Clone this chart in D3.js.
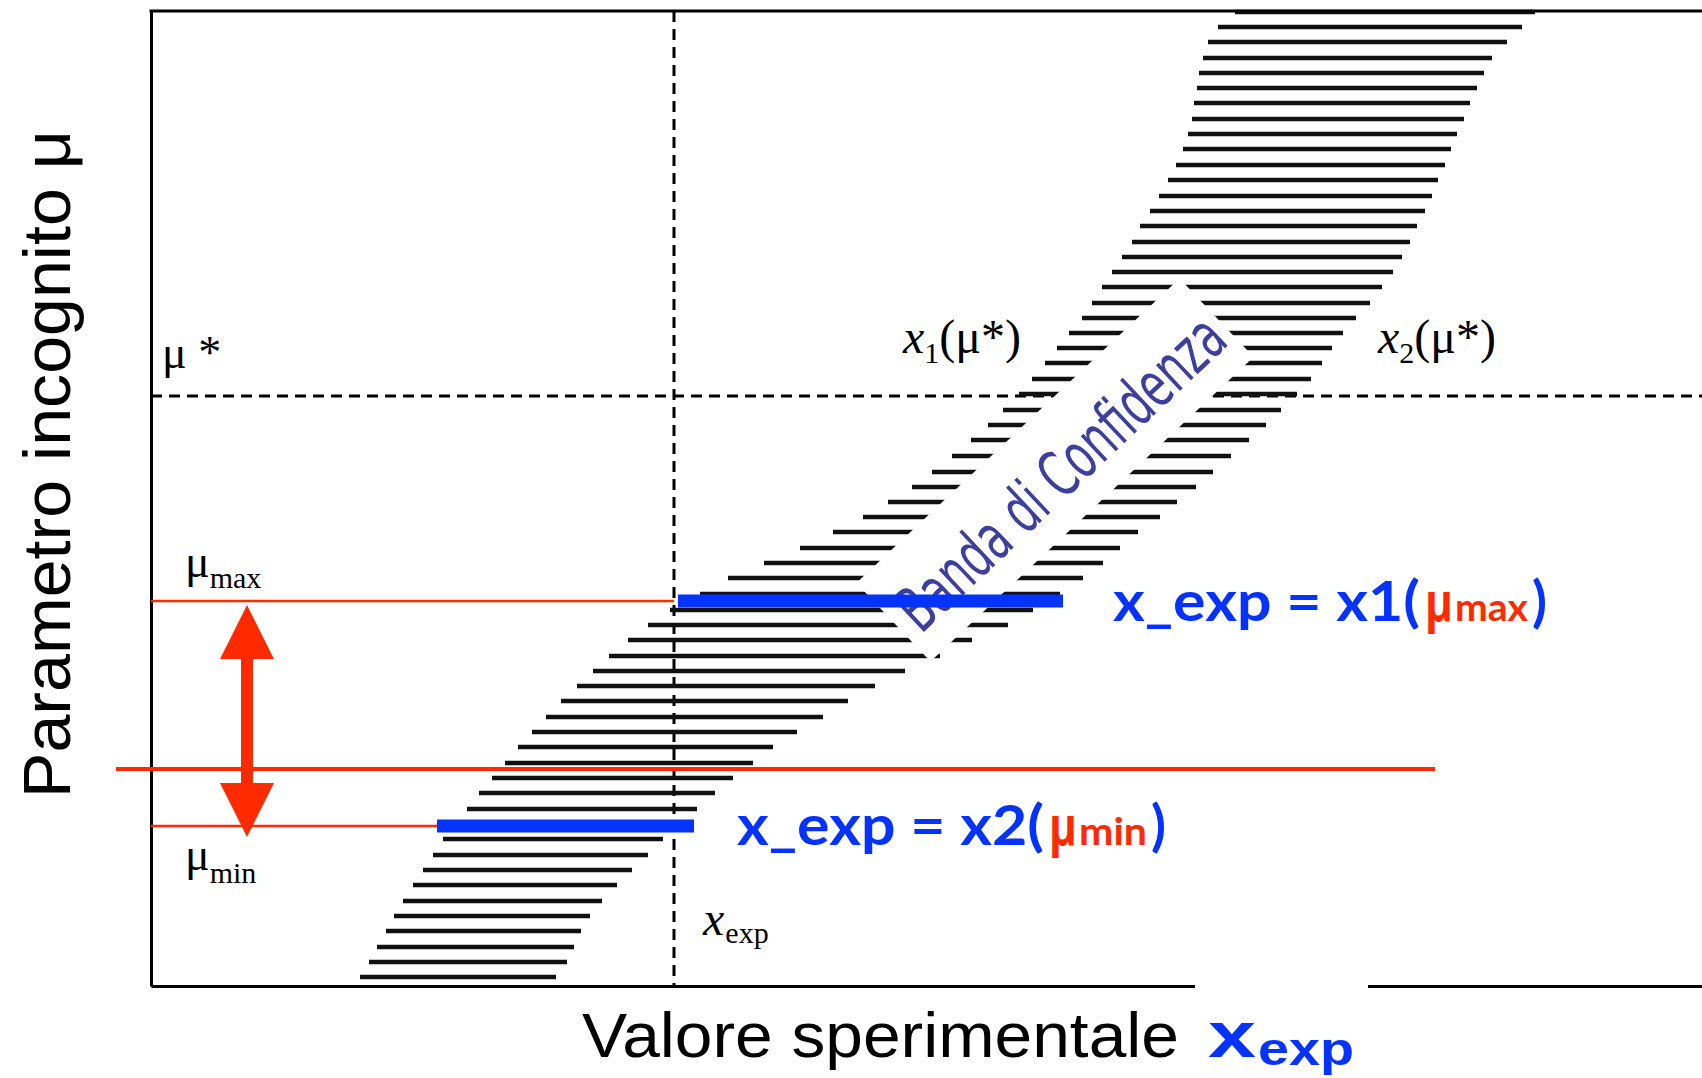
<!DOCTYPE html>
<html>
<head>
<meta charset="utf-8">
<script src="https://cdn.jsdelivr.net/npm/d3@7"></script>
<style>
  html, body { margin: 0; padding: 0; background: #fff; }
  svg { display: block; }
</style>
</head>
<body>
<svg id="chart" width="1702" height="1078"></svg>
<script>
// ---- Confidence belt data (arbitrary units: x = measured value, mu = unknown parameter) ----
// mu level of every hatch line of the belt
const muLevels = [0.9, 2.4, 3.9, 5.5, 7.0, 8.5, 10.1, 11.6, 13.1, 14.7,
  16.2, 17.7, 19.3, 20.8, 22.3, 23.9, 25.4, 26.9, 28.5, 30.0,
  31.5, 33.0, 34.6, 36.1, 37.6, 39.2, 40.8, 42.3, 43.8, 45.4,
  46.9, 48.4, 49.9, 51.4, 53.0, 54.6, 56.1, 57.6, 59.2, 60.7,
  62.3, 63.8, 65.3, 66.8, 68.3, 69.9, 71.4, 72.9, 74.4, 76.0,
  77.5, 79.0, 80.6, 82.1, 83.7, 85.2, 86.7, 88.3, 89.8, 91.3,
  92.8, 94.4, 95.9, 97.4];
// left edge x1(mu) of the belt
const bandX1 = [20.9, 21.8, 22.6, 23.5, 24.3, 25.2, 26.2, 27.2, 28.2, 29.2,
  30.4, 31.6, 32.8, 34.1, 35.4, 36.7, 38.1, 39.5, 41.0, 42.6,
  44.2, 45.8, 47.7, 49.7, 51.9, 54.9, 57.7, 61.3, 64.9, 68.2,
  71.2, 73.7, 76.1, 78.1, 80.1, 82.0, 83.7, 85.2, 86.8, 88.1,
  89.4, 90.6, 91.8, 93.1, 94.1, 95.1, 96.1, 97.1, 98.1, 98.9,
  99.9, 100.8, 101.7, 102.5, 103.2, 103.7, 104.1, 104.3, 104.6, 104.8,
  105.2, 105.7, 106.7, 108.4];
// right edge x2(mu) of the belt
const bandX2 = [40.5, 41.6, 42.3, 43.0, 43.9, 45.1, 46.6, 48.1, 49.7, 51.2,
  52.9, 54.6, 56.4, 58.2, 60.2, 62.2, 64.6, 67.2, 69.7, 72.4,
  75.4, 78.9, 82.1, 85.7, 88.2, 90.9, 93.2, 95.2, 96.9, 98.7,
  100.9, 102.6, 104.5, 106.2, 108.0, 109.8, 111.5, 113.0, 114.6, 116.0,
  117.1, 118.1, 119.2, 120.5, 121.9, 123.1, 124.2, 125.1, 125.9, 126.6,
  127.4, 128.1, 128.7, 129.4, 130.0, 130.6, 131.3, 131.9, 132.6, 133.3,
  134.1, 135.6, 137.1, 138.4];

const xExp = 52.3;          // measured value
const muStar = 59.0;        // reference parameter value
const muMax = 38.5;         // upper end of the interval
const muMin = 16.0;         // lower end of the interval
const muObsLine = 21.7;     // horizontal red line
const obsLineX = [-3.5, 128.4];
const barUpperX = [52.7, 91.2];   // x_exp = x1(mu_max)
const barLowerX = [28.6, 54.3];   // x_exp = x2(mu_min)
const arrowX = 9.6;
const arrowMu = [38.1, 14.9];

// ---- scales ----
const svg = d3.select("#chart");
const x = d3.scaleLinear().domain([0, 155.1]).range([151, 1702]);
const y = d3.scaleLinear().domain([0, 97.5]).range([986, 11]);

const RED = "#ff2a00";
const BLUE = "#0433ff";

// ---- dashed reference lines ----
svg.append("line")
  .attr("x1", x(0)).attr("x2", x(155.1))
  .attr("y1", y(muStar)).attr("y2", y(muStar))
  .attr("stroke", "#000").attr("stroke-width", 3).attr("stroke-dasharray", "11,7");
svg.append("line")
  .attr("x1", x(xExp)).attr("x2", x(xExp))
  .attr("y1", y(97.5)).attr("y2", y(0))
  .attr("stroke", "#000").attr("stroke-width", 3).attr("stroke-dasharray", "11,7");

// ---- hatched confidence belt ----
const hatch = muLevels.map((m, i) => ({ mu: m, x1: bandX1[i], x2: bandX2[i] }));
svg.append("g").selectAll("line").data(hatch).join("line")
  .attr("x1", d => x(d.x1)).attr("x2", d => x(d.x2))
  .attr("y1", d => y(d.mu)).attr("y2", d => y(d.mu))
  .attr("stroke", "#111").attr("stroke-width", 4.5);

// ---- label of the belt on a white strip ----
const bandLabel = svg.append("g")
  .attr("transform", `translate(${x(90.4)},${y(51.6)}) rotate(-43.3)`);
bandLabel.append("rect")
  .attr("x", -222).attr("y", -54).attr("width", 444).attr("height", 108)
  .attr("fill", "#fff");

// ---- axes (plain frame lines) ----
svg.append("g").attr("transform", `translate(0,${y(0)})`)
  .call(d3.axisBottom(x).tickValues([]).tickSizeOuter(0))
  .select(".domain").attr("stroke-width", 3);
svg.append("g").attr("transform", `translate(${x(0)},0)`)
  .call(d3.axisLeft(y).tickValues([]).tickSizeOuter(0))
  .select(".domain").attr("stroke-width", 3);
svg.append("line")
  .attr("x1", x(0) - 1.5).attr("x2", x(155.1))
  .attr("y1", y(97.5)).attr("y2", y(97.5))
  .attr("stroke", "#000").attr("stroke-width", 3);

// ---- red construction lines ----
svg.append("line")
  .attr("x1", x(0)).attr("x2", x(xExp))
  .attr("y1", y(muMax)).attr("y2", y(muMax))
  .attr("stroke", RED).attr("stroke-width", 2.5);
svg.append("line")
  .attr("x1", x(0)).attr("x2", x(barLowerX[0]))
  .attr("y1", y(muMin)).attr("y2", y(muMin))
  .attr("stroke", RED).attr("stroke-width", 2.5);
svg.append("line")
  .attr("x1", x(obsLineX[0])).attr("x2", x(obsLineX[1]))
  .attr("y1", y(muObsLine)).attr("y2", y(muObsLine))
  .attr("stroke", RED).attr("stroke-width", 4);

// ---- blue bars ----
svg.append("line")
  .attr("x1", x(barUpperX[0])).attr("x2", x(barUpperX[1]))
  .attr("y1", y(muMax)).attr("y2", y(muMax))
  .attr("stroke", BLUE).attr("stroke-width", 13);
svg.append("line")
  .attr("x1", x(barLowerX[0])).attr("x2", x(barLowerX[1]))
  .attr("y1", y(muMin)).attr("y2", y(muMin))
  .attr("stroke", BLUE).attr("stroke-width", 13);

// ---- double arrow between mu_min and mu_max ----
{
  const ax = x(arrowX), yt = y(arrowMu[0]), yb = y(arrowMu[1]);
  const hw = 27, hl = 54, sw = 6;
  const p = d3.path();
  p.moveTo(ax, yt);
  p.lineTo(ax + hw, yt + hl);
  p.lineTo(ax + sw, yt + hl);
  p.lineTo(ax + sw, yb - hl);
  p.lineTo(ax + hw, yb - hl);
  p.lineTo(ax, yb);
  p.lineTo(ax - hw, yb - hl);
  p.lineTo(ax - sw, yb - hl);
  p.lineTo(ax - sw, yt + hl);
  p.lineTo(ax - hw, yt + hl);
  p.closePath();
  svg.append("path").attr("d", p.toString()).attr("fill", RED);
}

// ---- belt label text ----
bandLabel.append("text")
  .attr("x", 2).attr("y", 28)
  .attr("text-anchor", "middle")
  .attr("font-family", "'Liberation Sans Narrow', 'DejaVu Sans Condensed', sans-serif")
  .attr("font-size", 64)
  .attr("textLength", 425).attr("lengthAdjust", "spacingAndGlyphs")
  .attr("fill", "#3d3f9e")
  .text("Banda di Confidenza");

// ---- serif math labels ----
const SERIF = "'Liberation Serif', 'DejaVu Serif', serif";
function mathLabel(px, py, parts) {
  const t = svg.append("text").attr("x", px).attr("y", py)
    .attr("font-family", SERIF).attr("fill", "#000");
  parts.forEach(pt => {
    const s = t.append("tspan").text(pt.t).attr("font-size", pt.size);
    if (pt.italic) s.attr("font-style", "italic");
    if (pt.dy) s.attr("dy", pt.dy);
    if (pt.dx) s.attr("dx", pt.dx);
  });
  return t;
}
mathLabel(x(1.1), y(61.8), [{ t: "μ *", size: 46 }]);
mathLabel(x(3.4), y(40.9), [{ t: "μ", size: 46 }, { t: "max", size: 30, dy: 11 }]);
mathLabel(x(3.4), y(11.6), [{ t: "μ", size: 46 }, { t: "min", size: 30, dy: 13 }]);
mathLabel(x(55.2), y(5.1), [{ t: "x", size: 48, italic: true }, { t: "exp", size: 30, dy: 8, dx: 1 }]);
mathLabel(x(75.2), y(63.3), [{ t: "x", size: 48, italic: true }, { t: "1", size: 30, dy: 10 },
  { t: "(μ*)", size: 48, dy: -10 }]);
mathLabel(x(122.7), y(63.3), [{ t: "x", size: 48, italic: true }, { t: "2", size: 30, dy: 10 },
  { t: "(μ*)", size: 48, dy: -10 }]);

// ---- blue/red equations ----
const SANS_B = "Lato, 'Open Sans', sans-serif";
function equation(px, py, parts) {
  const g = svg.append("g").attr("transform", `translate(${px},${py})`);
  parts.forEach(pt => {
    g.append("text").attr("x", pt.dx).attr("y", pt.dy || 0)
      .attr("font-family", pt.family || SANS_B).attr("font-weight", 700)
      .attr("font-size", pt.size).attr("fill", pt.color)
      .attr("textLength", pt.len).attr("lengthAdjust", "spacingAndGlyphs")
      .text(pt.t);
  });
}
equation(x(96.2), y(36.5), [
  { t: "x_exp = x1(", color: BLUE, size: 56, dx: 0, len: 307 },
  { t: "μ", color: RED, size: 54, dx: 312, len: 28, family: "'Open Sans', 'DejaVu Sans', sans-serif" },
  { t: "max", color: RED, size: 38, dx: 342, len: 73 },
  { t: ")", color: BLUE, size: 56, dx: 419, len: 15 }
]);
equation(x(58.6), y(14.1), [
  { t: "x_exp = x2(", color: BLUE, size: 56, dx: 0, len: 307 },
  { t: "μ", color: RED, size: 54, dx: 312, len: 28, family: "'Open Sans', 'DejaVu Sans', sans-serif" },
  { t: "min", color: RED, size: 38, dx: 342, len: 68 },
  { t: ")", color: BLUE, size: 56, dx: 414, len: 15 }
]);

// ---- axis titles ----
svg.append("text")
  .attr("transform", "translate(70,464) rotate(-90)")
  .attr("text-anchor", "middle")
  .attr("font-family", "'Liberation Sans', Arial, sans-serif")
  .attr("font-size", 66)
  .attr("textLength", 668).attr("lengthAdjust", "spacingAndGlyphs")
  .attr("fill", "#000")
  .text("Parametro incognito μ");

svg.append("rect").attr("x", 1195).attr("y", 976).attr("width", 173).attr("height", 102)
  .attr("fill", "#fff");
svg.append("text")
  .attr("x", 582).attr("y", 1057)
  .attr("font-family", "'Liberation Sans', Arial, sans-serif")
  .attr("font-size", 63)
  .attr("textLength", 597).attr("lengthAdjust", "spacingAndGlyphs")
  .attr("fill", "#000")
  .text("Valore sperimentale");
svg.append("text")
  .attr("x", 1208).attr("y", 1057)
  .attr("font-family", "'Liberation Sans', Arial, sans-serif").attr("font-weight", 700)
  .attr("font-size", 64).attr("textLength", 48).attr("lengthAdjust", "spacingAndGlyphs")
  .attr("fill", BLUE).text("x");
svg.append("text")
  .attr("x", 1258).attr("y", 1065)
  .attr("font-family", "'Liberation Sans', Arial, sans-serif").attr("font-weight", 700)
  .attr("font-size", 46).attr("textLength", 96).attr("lengthAdjust", "spacingAndGlyphs")
  .attr("fill", BLUE).text("exp");
</script>
</body>
</html>
